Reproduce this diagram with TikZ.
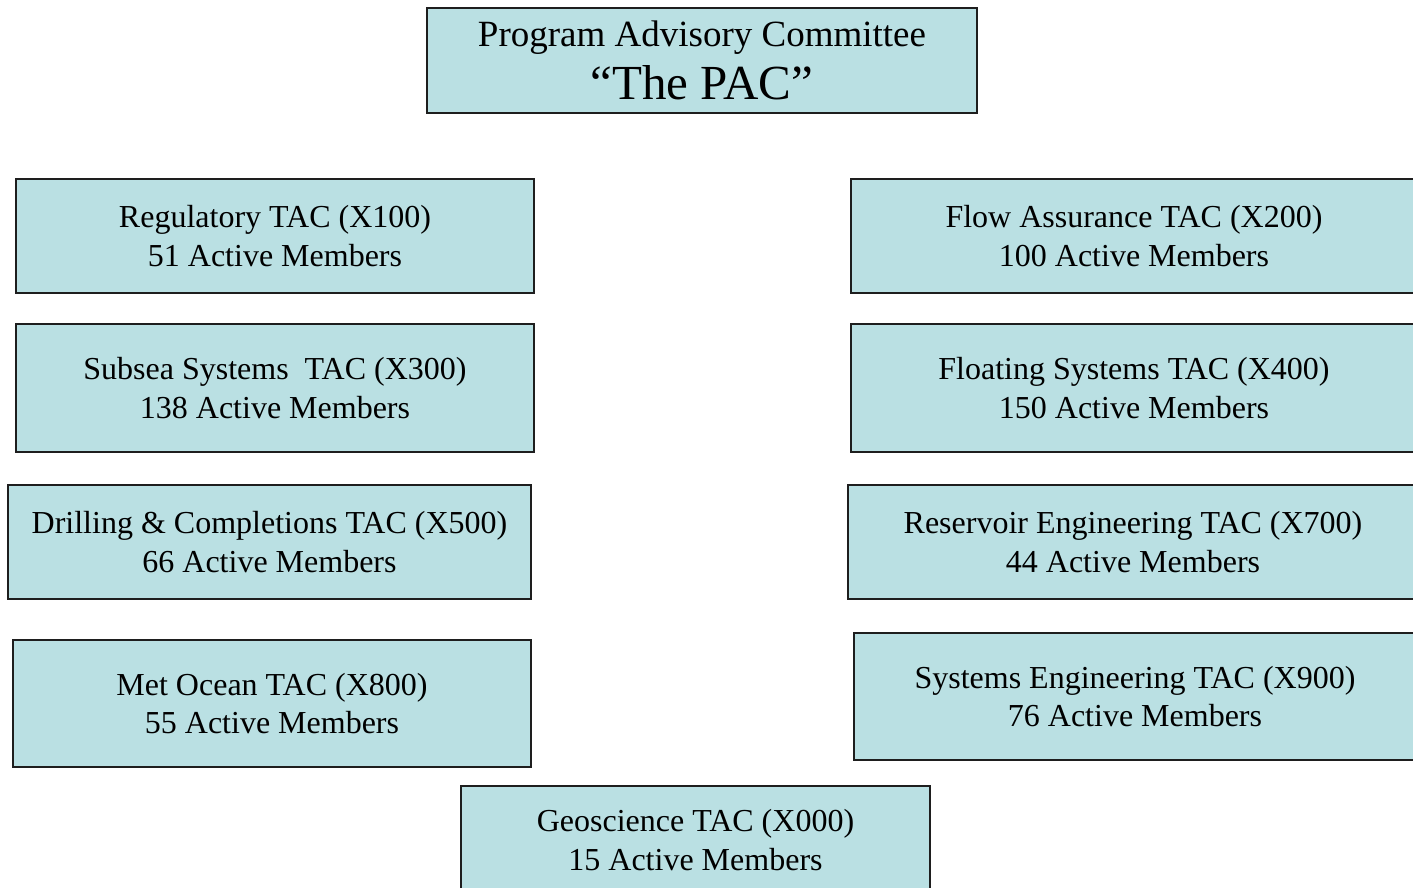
\documentclass[tikz,border=0pt]{standalone}
\usepackage{fontspec}
\setmainfont{Liberation Serif}
\usepackage{xcolor}
\usepackage{tikz}
\usetikzlibrary{positioning}
\definecolor{tacfill}{RGB}{186,224,227}
\definecolor{tacline}{RGB}{30,30,30}
\newcommand{\tacfont}{\fontsize{32bp}{38.5bp}\selectfont}

\begin{document}
\begin{tikzpicture}[
    x=1bp, y=-1bp,
    tac/.style={draw=tacline, line width=1.6bp, fill=tacfill, rectangle,
                align=center, inner sep=0pt, font=\tacfont},
    lbox/.style={tac, minimum width=518bp},
    rbox/.style={tac, minimum width=566bp},
]
\useasboundingbox (0,0) rectangle (1413,887);
\clip (0,0) rectangle (1413,887);

% committee on top
\node[tac, minimum width=550bp, minimum height=105bp] (pac) at (702,60.5)
    {{\fontsize{37bp}{44bp}\selectfont Program Advisory Committee}\\[10bp]
     {\fontsize{49bp}{50bp}\selectfont “The PAC”}};

% left column
\node[lbox, minimum height=114bp] (reg) at (275,236) {Regulatory TAC (X100)\\51 Active Members};
\node[lbox, minimum height=128bp] (subsea) at (275,388) {Subsea Systems~~TAC (X300)\\138 Active Members};
\node[lbox, minimum width=523bp, minimum height=114bp] (drill) at (269.5,542) {Drilling \& Completions TAC (X500)\\66 Active Members};
\node[lbox, minimum height=127bp] (metocean) at (272,703.5) {Met Ocean TAC (X800)\\55 Active Members};

% right column (runs off the page)
\node[rbox, minimum height=114bp] (flow) at (1134,236) {Flow Assurance TAC (X200)\\100 Active Members};
\node[rbox, minimum height=128bp] (float) at (1134,388) {Floating Systems TAC (X400)\\150 Active Members};
\node[rbox, minimum width=570bp, minimum height=114bp] (resv) at (1133,542) {Reservoir Engineering TAC (X700)\\44 Active Members};
\node[rbox, minimum width=562bp, minimum height=127bp] (syseng) at (1135,696.5) {Systems Engineering TAC (X900)\\76 Active Members};

% bottom
\node[tac, minimum width=469bp, minimum height=108bp] (geo) at (695.5,840) {Geoscience TAC (X000)\\15 Active Members};
\end{tikzpicture}
\end{document}
